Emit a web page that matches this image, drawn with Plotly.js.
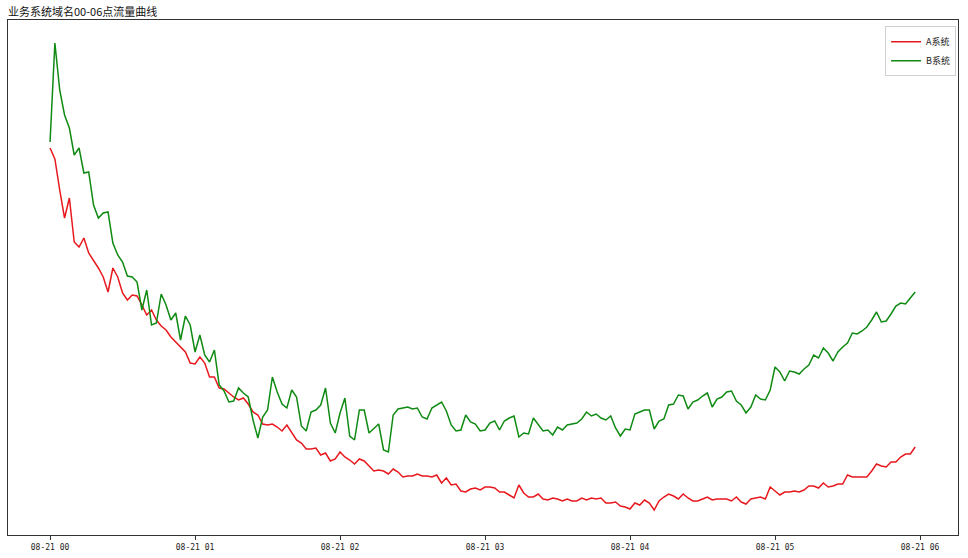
<!DOCTYPE html>
<html>
<head>
<meta charset="utf-8">
<script src="https://cdn.plot.ly/plotly-3.0.1.min.js"></script>
<style>
  html, body { margin: 0; padding: 0; background: #fff; }
  #chart { width: 968px; height: 558px; }
</style>
</head>
<body>
<div id="chart"></div>
<script>
// one sample every 2 minutes, 08-21 00:00 .. 05:58
let startTime = '2019-08-21T00:00:00';
let stepMinutes = 2;

let seriesNames = ['A系统', 'B系统'];

let trafficA = [
  387,376,345,317,337,293,288,297,282,275,
  267,258,243,267,258,242,235,240,239,230,
  220,225,215,209,205,198,193,187,183,172,
  171,178,172,158,158,147,146,142,138,135,
  137,131,123,120,111,110,111,108,104,110,
  102,95,92,86,86,87,80,82,74,76,
  83,78,75,71,76,74,69,64,65,64,
  61,66,63,58,59,59,61,59,59,58,
  60,52,57,50,51,44,43,46,47,45,
  48,48,47,43,43,40,37,50,42,38,
  38,41,36,35,37,36,34,36,34,34,
  37,35,37,36,37,32,32,33,29,28,
  26,32,30,35,32,25,34,38,41,39,
  36,41,37,34,34,36,38,35,36,36,
  36,34,38,33,31,36,37,38,36,48,
  44,40,43,43,44,43,45,49,49,47,
  52,48,49,51,51,60,58,58,58,58,
  64,71,69,68,73,73,78,81,81,88
];

let trafficB = [
  393,492,445,420,407,380,387,362,363,330,
  317,322,323,292,280,273,259,258,253,225,
  245,210,212,241,230,215,222,195,219,210,
  183,200,180,173,185,150,144,133,134,147,
  142,138,115,97,118,125,158,143,131,127,
  145,138,109,104,123,125,130,147,112,102,
  122,137,99,95,125,125,102,107,111,85,
  83,120,126,127,128,126,127,118,116,127,
  130,133,124,110,104,105,120,113,111,104,
  105,112,114,105,114,117,119,98,102,101,
  117,110,104,105,100,108,105,110,111,112,
  116,123,119,121,117,115,119,107,99,106,
  105,121,123,125,125,106,114,116,130,131,
  140,139,126,133,135,139,142,128,136,138,
  143,144,134,130,122,128,140,136,135,145,
  168,163,154,164,163,161,166,170,180,177,
  187,182,174,183,188,192,202,201,204,208,
  215,223,213,214,221,229,232,231,237,243
];

let tickTimes = ['2019-08-21 00:00', '2019-08-21 01:00', '2019-08-21 02:00',
                 '2019-08-21 03:00', '2019-08-21 04:00', '2019-08-21 05:00',
                 '2019-08-21 06:00'];
let tickLabels = ['08-21 00', '08-21 01', '08-21 02', '08-21 03',
                  '08-21 04', '08-21 05', '08-21 06'];

function pad(n) { return (n < 10 ? '0' : '') + n; }

// build timestamps from the start time and the step
let t0 = new Date(startTime + 'Z').getTime();
let times = trafficA.map(function (_, i) {
  let d = new Date(t0 + i * stepMinutes * 60000);
  return d.getUTCFullYear() + '-' + pad(d.getUTCMonth() + 1) + '-' + pad(d.getUTCDate()) +
    ' ' + pad(d.getUTCHours()) + ':' + pad(d.getUTCMinutes());
});

let font = '"Noto Sans CJK SC", "Noto Sans", sans-serif';
let monoFont = '"DejaVu Sans Mono", "Liberation Mono", monospace';

let traceA = {
  x: times, y: trafficA, name: seriesNames[0],
  type: 'scatter', mode: 'lines',
  line: { color: '#e8191e', width: 1.5 }
};
let traceB = {
  x: times, y: trafficB, name: seriesNames[1],
  type: 'scatter', mode: 'lines',
  line: { color: '#0f8a12', width: 1.5 }
};

let layout = {
  width: 968, height: 558,
  margin: { l: 8, r: 10, t: 20, b: 23 },
  paper_bgcolor: '#fff', plot_bgcolor: '#fff',
  font: { family: font, size: 9, color: '#222' },
  title: {
    text: '业务系统域名00-06点流量曲线',
    font: { family: font, size: 11, color: '#111' },
    xref: 'paper', x: 0, xanchor: 'left',
    yref: 'container', y: 0.979, yanchor: 'middle'
  },
  xaxis: {
    type: 'date',
    range: ['2019-08-20 23:42:36', '2019-08-21 06:15:43'],
    tickvals: tickTimes, ticktext: tickLabels,
    ticks: 'outside', ticklen: 4, tickcolor: '#333', tickwidth: 1,
    showgrid: false, zeroline: false,
    showline: true, linecolor: '#333', linewidth: 1, mirror: true,
    tickfont: { family: monoFont, size: 8, color: '#222' }
  },
  yaxis: {
    range: [0, 515],
    showticklabels: false, ticks: '',
    showgrid: false, zeroline: false,
    showline: true, linecolor: '#333', linewidth: 1, mirror: true
  },
  showlegend: true,
  legend: {
    x: 0.998, xanchor: 'right', y: 0.988, yanchor: 'top',
    bgcolor: '#fff', bordercolor: '#d0d0d0', borderwidth: 1,
    font: { family: font, size: 9, color: '#222' },
    itemwidth: 30, tracegroupgap: 0
  }
};

Plotly.newPlot('chart', [traceA, traceB], layout, { displayModeBar: false, staticPlot: true });
</script>
</body>
</html>
